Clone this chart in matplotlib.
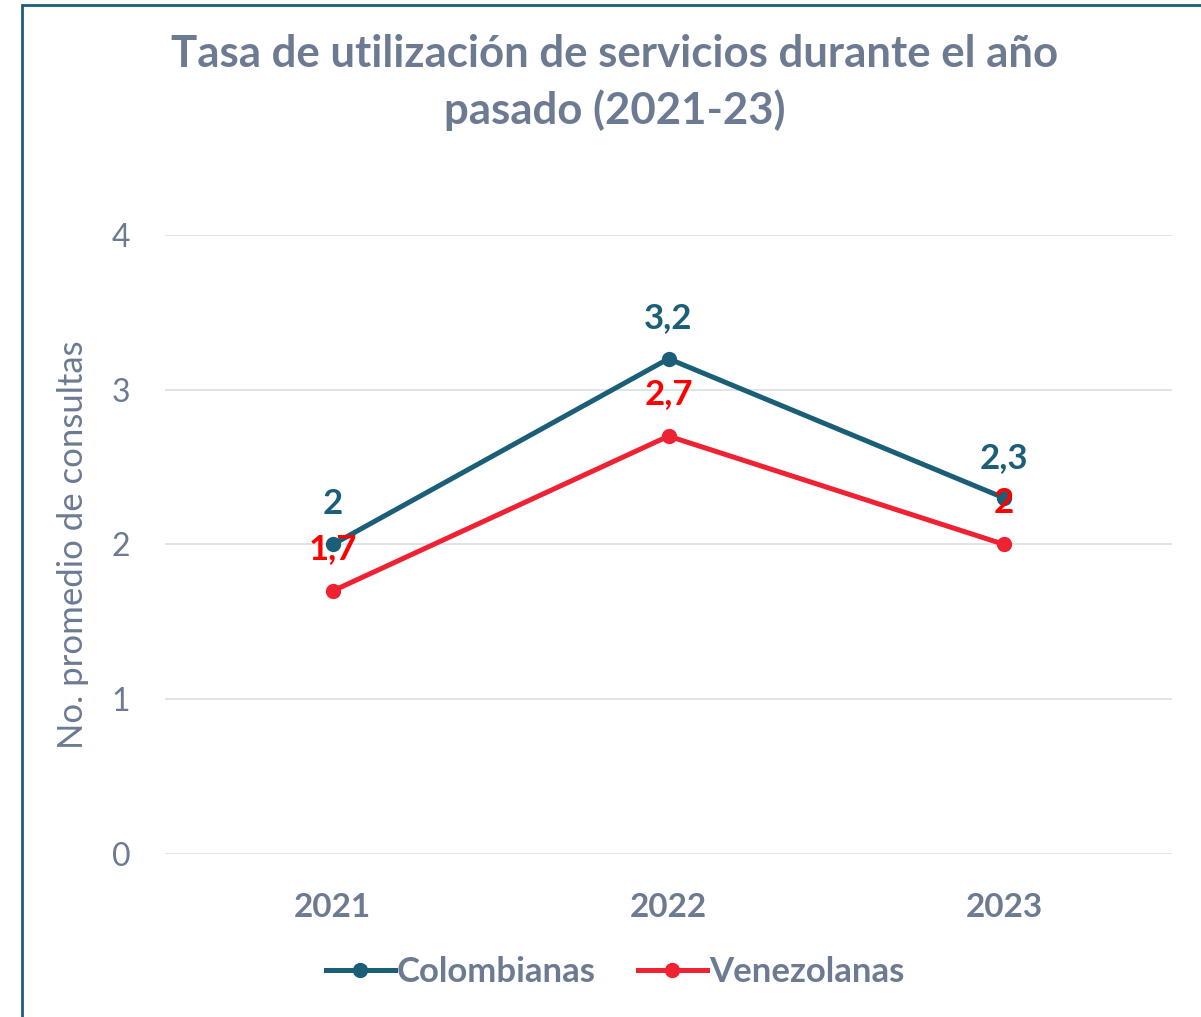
import matplotlib.pyplot as plt
from matplotlib.patches import Rectangle

years = ['2021', '2022', '2023']
colombianas = [2.0, 3.2, 2.3]
venezolanas = [1.7, 2.7, 2.0]
col_labels = ['2', '3,2', '2,3']
ven_labels = ['1,7', '2,7', '2']

teal = '#1B5E78'
red = '#EE2233'
label_red = '#FF0000'
gray = '#6C7A92'

plt.rcParams['font.family'] = ['Lato', 'DejaVu Sans']

fig = plt.figure(figsize=(12.01, 10.17), dpi=100)
ax = fig.add_axes([0.1374, 0.1603, 0.8385, 0.6087])

x = range(len(years))
ax.plot(x, colombianas, color=teal, lw=3.6, marker='o', ms=10, label='Colombianas', zorder=3)
ax.plot(x, venezolanas, color=red, lw=3.6, marker='o', ms=10, label='Venezolanas', zorder=3)

for i, v in enumerate(colombianas):
    ax.annotate(col_labels[i], (i, v), xytext=(0, 29), textcoords='offset points',
                ha='center', va='center', fontsize=25, fontweight='bold', color=teal, zorder=4)
for i, v in enumerate(venezolanas):
    ax.annotate(ven_labels[i], (i, v), xytext=(0, 30), textcoords='offset points',
                ha='center', va='center', fontsize=25, fontweight='bold', color=label_red, zorder=4)

ax.set_xlim(-0.5, 2.5)
ax.set_ylim(0, 4)
ax.set_yticks([0, 1, 2, 3, 4])
ax.set_xticks(list(x))
ax.set_xticklabels(years, fontsize=24, fontweight='bold', color=gray)
ax.tick_params(axis='y', labelsize=23, labelcolor=gray, length=0, pad=25)
ax.tick_params(axis='x', length=0, pad=28)
ax.grid(axis='y', color='#DADEE4', lw=1.2)
ax.set_axisbelow(True)
for s in ax.spines.values():
    s.set_visible(False)
ax.set_ylabel('No. promedio de consultas', fontsize=25, color=gray, labelpad=16)

fig.suptitle('Tasa de utilización de servicios durante el año\npasado (2021-23)',
             x=0.512, y=0.967, fontsize=31.5, fontweight='bold', color=gray, linespacing=1.45)

leg = fig.legend(loc='center', bbox_to_anchor=(0.512, 0.044), ncol=2, frameon=False,
                 handlelength=2.0, handletextpad=0.05, columnspacing=1.2,
                 prop={'size': 25, 'weight': 'bold'})
for t in leg.get_texts():
    t.set_color(gray)

fig.patches.append(Rectangle((22 / 1201, -0.1), 1.2, (1017 - 5) / 1017 + 0.1,
                             transform=fig.transFigure, fill=False, ec=teal, lw=2))

plt.savefig('out.png', dpi=100)
